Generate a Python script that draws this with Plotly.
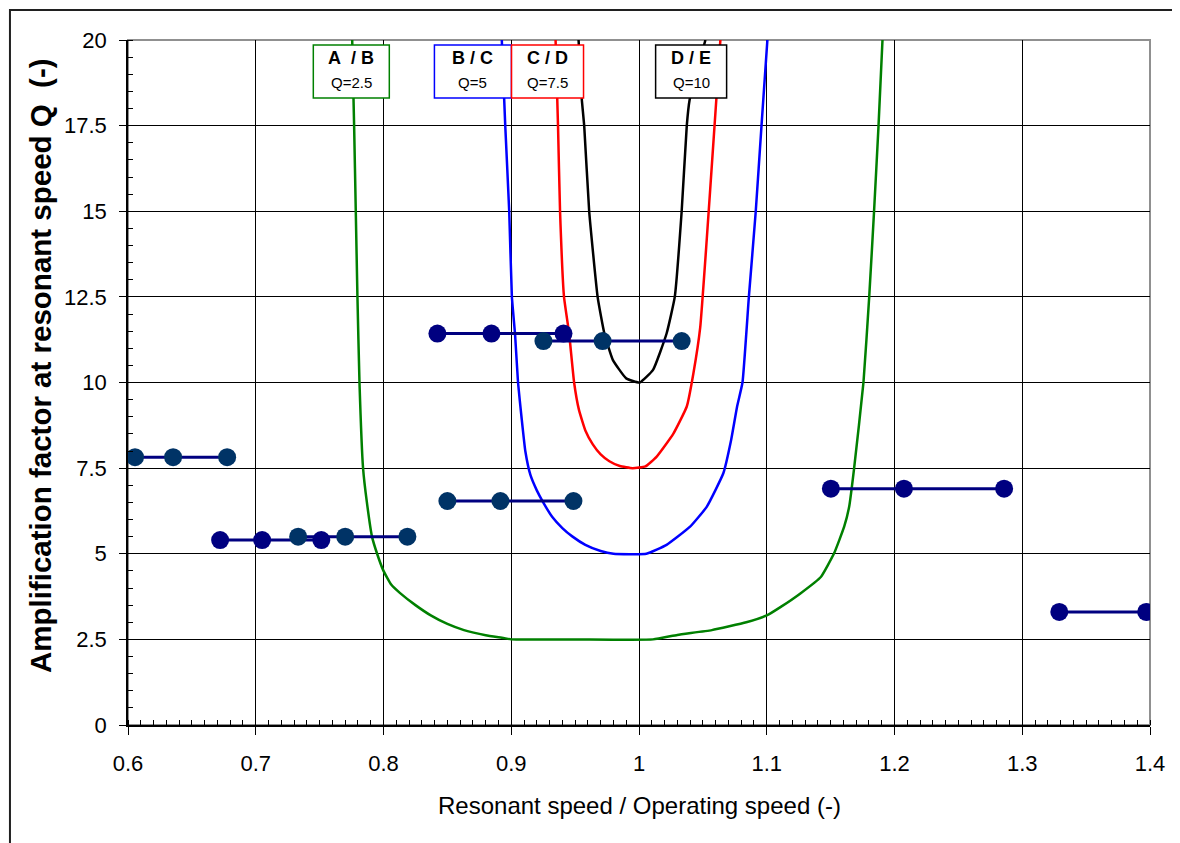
import plotly.graph_objects as go

# ---- limit curves (ratio, Q) ----
ab_x = [0.7755, 0.7770, 0.7783, 0.7796, 0.7812, 0.7840, 0.7870, 0.7910, 0.7950, 0.8000,
        0.8060, 0.8130, 0.8250, 0.8370, 0.8500, 0.8630, 0.8800, 0.8940, 0.9000, 0.9500,
        1.0110, 1.0300, 1.0570, 1.0840, 1.1000, 1.1110, 1.1266, 1.1425, 1.1528, 1.1606,
        1.1645, 1.1684, 1.1757, 1.1802, 1.1840, 1.1875, 1.1906]
ab_y = [20.0, 17.5, 15.0, 12.5, 10.0, 7.5, 6.5, 5.5, 5.0, 4.5,
        4.1, 3.85, 3.5, 3.2, 2.95, 2.77, 2.62, 2.54, 2.5, 2.5,
        2.5, 2.63, 2.77, 3.0, 3.2, 3.45, 3.85, 4.33, 5.02, 5.79,
        6.37, 7.5, 10.0, 12.5, 15.0, 17.5, 20.0]

bc_x = [0.8926, 0.8953, 0.8984, 0.9005, 0.9030, 0.9053, 0.9080, 0.9110, 0.9150, 0.9200,
        0.9250, 0.9320, 0.9400, 0.9480, 0.9580, 0.9700, 0.9800, 1.0058, 1.0216, 1.0400,
        1.0530, 1.0660, 1.0720, 1.0768, 1.0810, 1.0860, 1.0914, 1.0959, 1.1005]
bc_y = [20.0, 17.5, 15.0, 12.5, 11.4, 10.0, 9.0, 8.0, 7.3, 6.85,
        6.5, 6.08, 5.75, 5.5, 5.26, 5.08, 5.0, 5.0, 5.26, 5.79,
        6.37, 7.35, 8.3, 9.3, 10.0, 12.5, 15.0, 17.5, 20.0]

cd_x = [0.9347, 0.9366, 0.9382, 0.9413, 0.9453, 0.9492, 0.9530, 0.9580, 0.9637, 0.9700,
        0.9768, 0.9850, 0.9950, 1.0050, 1.0137, 1.0268, 1.0374, 1.0426, 1.0479, 1.0530,
        1.0584, 1.0637]
cd_y = [20.0, 17.5, 15.0, 12.5, 11.43, 10.0, 9.2, 8.6, 8.2, 7.9,
        7.7, 7.56, 7.5, 7.55, 7.83, 8.5, 9.3, 10.27, 11.6, 14.16,
        17.1, 20.0]

de_x = [0.9527, 0.9550, 0.9571, 0.9610, 0.9676, 0.9729, 0.9795, 0.9900, 1.0005, 1.0110,
        1.0216, 1.0280, 1.0334, 1.0374, 1.0396, 1.0520]
de_y = [20.0, 18.35, 17.5, 15.0, 12.5, 11.43, 10.66, 10.12, 10.0, 10.37,
        11.43, 12.5, 15.0, 17.5, 18.25, 20.0]

# ---- resonance bands (ratio, Q) ----
band1_x = [0.6055, 0.6353, 0.6776]
band1_y = [7.82, 7.82, 7.82]
band2_x = [0.6721, 0.7050, 0.7513]
band2_y = [5.40, 5.40, 5.40]
band3_x = [0.7332, 0.7700, 0.8187]
band3_y = [5.50, 5.50, 5.50]
band4_x = [0.8422, 0.8845, 0.9409]
band4_y = [11.43, 11.43, 11.43]
band5_x = [0.9252, 0.9715, 1.0334]
band5_y = [11.21, 11.21, 11.21]
band6_x = [0.8500, 0.8915, 0.9487]
band6_y = [6.54, 6.54, 6.54]
band7_x = [1.1502, 1.2074, 1.2858]
band7_y = [6.90, 6.90, 6.90]
band8_x = [1.3290, 1.3970, 1.4100]
band8_y = [3.30, 3.30, 3.30]

zone_labels = ['A\u00a0\u00a0/\u00a0B', 'B\u00a0/\u00a0C', 'C\u00a0/\u00a0D', 'D\u00a0/\u00a0E']
zone_q = ['Q=2.5', 'Q=5', 'Q=7.5', 'Q=10']
zone_pos = [0.7748, 0.8700, 0.9284, 1.0408]

x_ticks = [0.6, 0.7, 0.8, 0.9, 1.0, 1.1, 1.2, 1.3, 1.4]
y_ticks = [0, 2.5, 5, 7.5, 10, 12.5, 15, 17.5, 20]

FONT = 'Liberation Sans, Arial, sans-serif'

fig = go.Figure()

curves = [
    (ab_x, ab_y, '#008000'),
    (bc_x, bc_y, '#0000FF'),
    (cd_x, cd_y, '#FF0000'),
    (de_x, de_y, '#000000'),
]
for cx, cy, col in curves:
    fig.add_trace(go.Scatter(x=cx, y=cy, mode='lines',
                             line=dict(color=col, width=2.5, shape='spline', smoothing=0.4)))

bands = [
    (band1_x, band1_y, '#003366'),
    (band2_x, band2_y, '#000080'),
    (band3_x, band3_y, '#003366'),
    (band4_x, band4_y, '#000080'),
    (band5_x, band5_y, '#003366'),
    (band6_x, band6_y, '#003366'),
    (band7_x, band7_y, '#000080'),
    (band8_x, band8_y, '#000080'),
]
for bx, by, col in bands:
    fig.add_trace(go.Scatter(x=bx, y=by, mode='lines+markers',
                             line=dict(color='#000080', width=3),
                             marker=dict(color=col, size=18, symbol='circle',
                                         line=dict(width=0))))

# zone label boxes at the top of the plot
box_cols = ['#008000', '#0000FF', '#FF0000', '#000000']
box_w = [76, 77, 72, 71]
for lab, q, xc, col, w in zip(zone_labels, zone_q, zone_pos, box_cols, box_w):
    fig.add_shape(type='rect', xref='x', yref='y', xsizemode='pixel', ysizemode='pixel',
                  xanchor=xc, yanchor=20, x0=-w / 2, x1=w / 2, y0=-5, y1=-58,
                  line=dict(color=col, width=1.5), fillcolor='white', layer='above')
    fig.add_annotation(x=xc, y=20, xref='x', yref='y', text='<b>' + lab + '</b>',
                       showarrow=False, yanchor='middle', yshift=-18,
                       font=dict(family=FONT, size=18, color='black'))
    fig.add_annotation(x=xc, y=20, xref='x', yref='y', text=q,
                       showarrow=False, yanchor='middle', yshift=-42,
                       font=dict(family=FONT, size=15, color='black'))

# grey plot-area frame (top / right)
fig.add_shape(type='rect', xref='x domain', yref='y domain', x0=0, x1=1, y0=0, y1=1,
              line=dict(color='#909090', width=2), layer='below')

# outer chart border
fig.add_shape(type='rect', xref='paper', yref='paper',
              x0=-0.1155, x1=1.0235, y0=-0.19, y1=1.0438,
              line=dict(color='#202020', width=2))

# axis titles
fig.add_annotation(xref='paper', yref='paper', x=-0.0861, y=0.524,
                   text='<b>Amplification factor at resonant speed Q\u00a0\u00a0(-)</b>',
                   textangle=-90, showarrow=False, xanchor='center', yanchor='middle',
                   font=dict(family=FONT, size=29.5, color='black'))
fig.add_annotation(xref='paper', yref='paper', x=0.5, y=-0.1182,
                   text='Resonant speed / Operating speed (-)',
                   showarrow=False, xanchor='center', yanchor='middle',
                   font=dict(family=FONT, size=24, color='black'))

fig.update_xaxes(
    range=[0.6, 1.4], tickvals=x_ticks, ticktext=[('%g' % v) for v in x_ticks],
    showgrid=True, gridcolor='black', gridwidth=1,
    showline=True, linecolor='black', linewidth=1.5,
    ticks='outside', ticklen=8, tickcolor='black', ticklabelstandoff=10,
    minor=dict(dtick=0.01, ticks='inside', ticklen=5, tickcolor='black', showgrid=False),
    tickfont=dict(family=FONT, size=22, color='black'), zeroline=False,
)
fig.update_yaxes(
    range=[0, 20], tickvals=y_ticks, ticktext=[('%g' % v) for v in y_ticks],
    showgrid=True, gridcolor='black', gridwidth=1,
    showline=True, linecolor='black', linewidth=1.5,
    ticks='outside', ticklen=7, tickcolor='black', ticklabelstandoff=8,
    minor=dict(dtick=0.5, ticks='inside', ticklen=5, tickcolor='black', showgrid=False),
    tickfont=dict(family=FONT, size=22, color='black'), zeroline=False,
)

# page body adds ~8px offset, so the figure is sized to land the plot area in place
fig.update_layout(
    width=1172, height=835,
    margin=dict(l=120, r=30, t=32, b=118),
    plot_bgcolor='white', paper_bgcolor='white',
    showlegend=False,
    font=dict(family=FONT, color='black'),
)

fig.write_html('out.html')
